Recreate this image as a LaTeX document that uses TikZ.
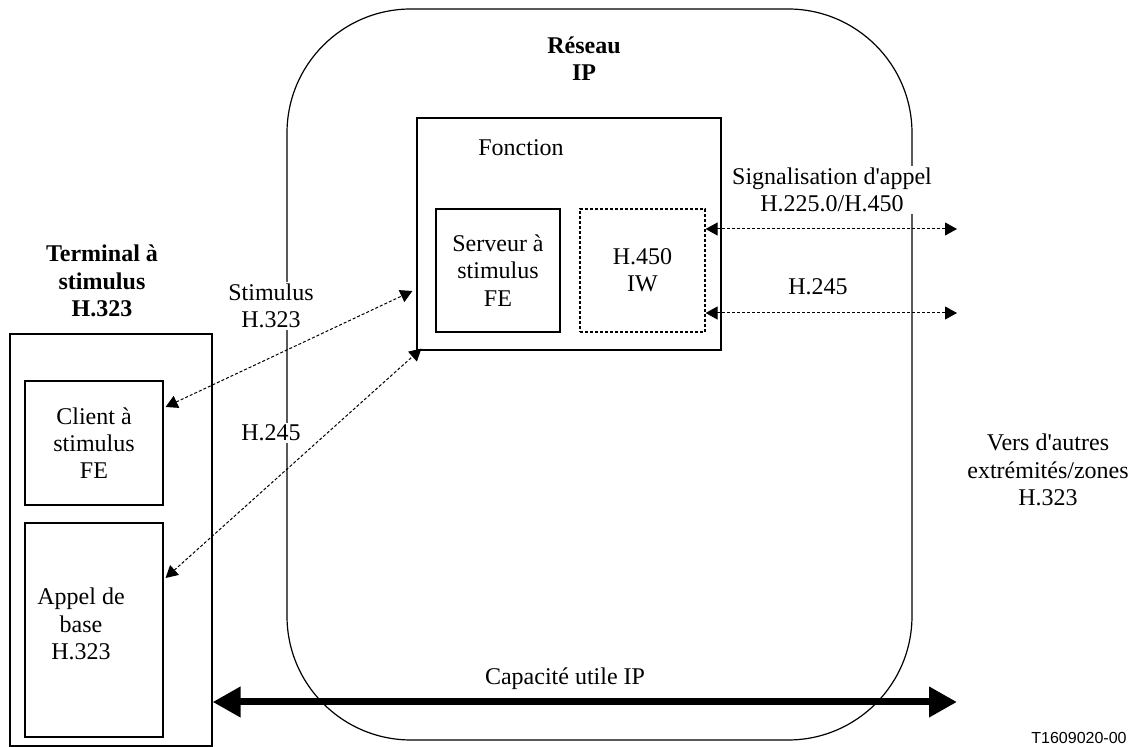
\documentclass[tikz,border=0pt]{standalone}
\usepackage{fontspec}
\setmainfont{Liberation Serif}
\newfontfamily\tagfont{Liberation Sans}
\usetikzlibrary{arrows.meta}
\newcommand{\labelsize}{\fontsize{12}{13.6}\selectfont}

\begin{document}
\begin{tikzpicture}[x=0.5pt, y=-0.5pt, font=\labelsize,
    box/.style={draw, line width=0.6pt, inner sep=0pt, align=center},
    title/.style={font=\labelsize\bfseries, align=center},
    lbl/.style={fill=white, inner sep=1pt, align=center},
    sig/.style={{Triangle[length=6pt,width=6.5pt]}-{Triangle[length=6pt,width=6.5pt]},
        line width=0.5pt, dash pattern=on 1.5pt off 1pt},
    payload/.style={{Triangle[length=14pt,width=14.5pt]}-{Triangle[length=14pt,width=14.5pt]},
        line width=3.5pt}]
    \useasboundingbox (0,0) rectangle (1148,747);

    % IP network
    \node[box, rounded corners=62pt, minimum width=312.5pt, minimum height=365.5pt] (reseau) at (599.5,374.5) {};
    \node[title] (reseautitle) at (584,59) {Réseau\\IP};

    % Function block with server and interworking
    \node[box, minimum width=152pt, minimum height=116pt] (fonction) at (569,234) {};
    \node (fonctiontitle) at (521,148) {Fonction};
    \node[box, minimum width=62pt, minimum height=61.5pt] (serveur) at (498,270.5) {Serveur à\\stimulus\\FE};
    \node[box, dash pattern=on 1.5pt off 1pt, minimum width=62.5pt, minimum height=61.5pt] (iw) at (642.5,270.5) {H.450\\IW};

    % Stimulus terminal
    \node[title] (terminaltitle) at (102,281) {Terminal à\\stimulus\\H.323};
    \node[box, minimum width=101pt, minimum height=206pt] (terminal) at (111,540) {};
    \node[box, minimum width=69pt, minimum height=62pt] (client) at (94,443) {Client à\\stimulus\\FE};
    \node[box, minimum width=69pt, minimum height=107pt] (appel) at (94,630) {};
    \node[align=center] (appeltext) at (81,624) {Appel de\\base\\H.323};

    % Far ends
    \coordinate (sigend) at (957,229);
    \coordinate (ctrlend) at (957,313);
    \coordinate (payend) at (957,702);
    \node[align=center] (autres) at (1048,470) {Vers d\textquotesingle autres\\extrémités/zones\\H.323};

    % Signalling flows
    \draw[sig] ([xshift=1pt,yshift=18pt]client.east) -- ([xshift=-2pt,yshift=-28.5pt]fonction.west);
    \draw[sig] ([xshift=1pt,yshift=26pt]appel.east) -- ([xshift=2.5pt,yshift=1pt]fonction.south west);
    \draw[sig] ([yshift=20.75pt]iw.east) -- (sigend);
    \draw[sig] ([yshift=-21.25pt]iw.east) -- (ctrlend);
    \node[lbl] (stimlbl) at (271,306) {Stimulus\\H.323};
    \node[lbl] (ctrllbl) at (271,433) {H.245};
    \node[lbl] (siglbl) at (832,190) {Signalisation d\textquotesingle appel\\H.225.0/H.450};
    \node[lbl] (ctrlrlbl) at (818,287) {H.245};

    % IP payload
    \draw[payload] ([yshift=-81pt]terminal.east) -- (payend);
    \node (paylbl) at (565,679) {Capacité utile IP};

    % Figure tag
    \node[font=\tagfont\fontsize{8}{9}\selectfont] (tag) at (1079,738) {T1609020-00};
\end{tikzpicture}
\end{document}
